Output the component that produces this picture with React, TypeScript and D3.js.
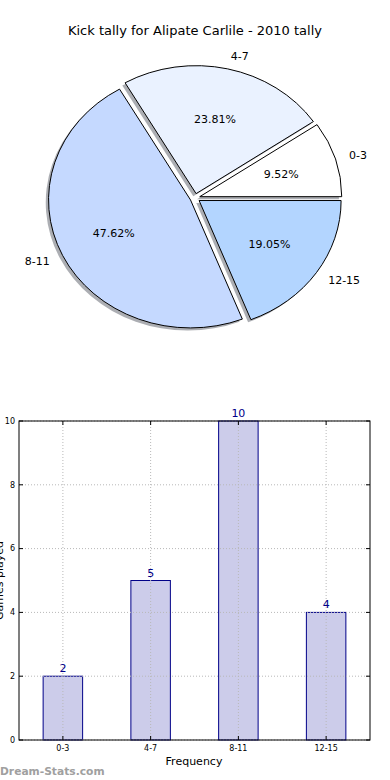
import React from 'react';
import * as d3 from 'd3';

const categories = ['0-3', '4-7', '8-11', '12-15'];
const tally = [2, 5, 10, 4];
const sliceColors = ['#ffffff', '#eaf2ff', '#c5d9ff', '#b3d5ff'];
const yTicks = [0, 2, 4, 6, 8, 10];

const title = 'Kick tally for Alipate Carlile - 2010 tally';
const font = 'DejaVu Sans, sans-serif';

function PieChart() {
  const cx = 195;
  const cy = 198;
  const rx = 142;
  const ry = 128;
  const explode = 0.035;

  const total = d3.sum(tally);
  // matplotlib style: start at 3 o'clock, go counterclockwise
  const pie = d3.pie<number>().sort(null).startAngle(Math.PI / 2).endAngle(Math.PI / 2 - 2 * Math.PI);
  const slices = pie(tally);
  const arc = d3.arc<d3.PieArcDatum<number>>().innerRadius(0).outerRadius(1);

  const pos = (a: number, k: number) => [Math.sin(a) * rx * k, -Math.cos(a) * ry * k];

  return (
    <g>
      <text x={195} y={35} textAnchor="middle" fontSize={13} fontFamily={font}>{title}</text>
      {slices.map((s, i) => {
        const mid = (s.startAngle + s.endAngle) / 2;
        const [ox, oy] = pos(mid, explode);
        return (
          <path key={'sh' + i} d={arc(s) || ''}
            transform={`translate(${cx + ox - 2.8},${cy + oy + 2.6}) scale(${rx},${ry})`}
            fill="#5a5e68" fillOpacity={0.5} />
        );
      })}
      {slices.map((s, i) => {
        const mid = (s.startAngle + s.endAngle) / 2;
        const [ox, oy] = pos(mid, explode);
        return (
          <path key={'sl' + i} d={arc(s) || ''}
            transform={`translate(${cx + ox},${cy + oy}) scale(${rx},${ry})`}
            fill={sliceColors[i]} stroke="#000" strokeWidth={1}
            vectorEffect="non-scaling-stroke" />
        );
      })}
      {slices.map((s, i) => {
        const mid = (s.startAngle + s.endAngle) / 2;
        const [ox, oy] = pos(mid, explode);
        const [lx, ly] = pos(mid, 1.1);
        const [px, py] = pos(mid, 0.6);
        return (
          <g key={'lb' + i} fontFamily={font} fontSize={11}>
            <text x={cx + ox + lx} y={cy + oy + ly} dy="0.35em"
              textAnchor={lx > 0 ? 'start' : 'end'}>{categories[i]}</text>
            <text x={cx + ox + px} y={cy + oy + py} dy="0.35em" textAnchor="middle">
              {((tally[i] / total) * 100).toFixed(2) + '%'}
            </text>
          </g>
        );
      })}
    </g>
  );
}

function BarChart() {
  const left = 19;
  const right = 370;
  const top = 421;
  const bottom = 740;
  const x = d3.scaleLinear().domain([-0.5, categories.length - 0.5]).range([left, right]);
  const y = d3.scaleLinear().domain([0, 10]).range([bottom, top]);
  const bw = x(0.45) - x(0);
  const grid = '#b8b8b8';

  return (
    <g fontFamily={font}>
      {tally.map((v, i) => (
        <rect key={'b' + i} x={x(i) - bw / 2} y={y(v)} width={bw} height={y(0) - y(v)}
          fill="#ccccea" stroke="#000088" strokeWidth={1} />
      ))}
      {yTicks.map(t => (
        <g key={'y' + t}>
          <line x1={left} x2={right} y1={y(t)} y2={y(t)} stroke={grid} strokeDasharray="1,2" />
          <line x1={left} x2={left + 4} y1={y(t)} y2={y(t)} stroke="#000" />
          <line x1={right - 4} x2={right} y1={y(t)} y2={y(t)} stroke="#000" />
          <text x={left - 4} y={y(t)} dy="0.35em" textAnchor="end" fontSize={8}>{t}</text>
        </g>
      ))}
      {categories.map((c, i) => (
        <g key={'x' + i}>
          <line x1={x(i)} x2={x(i)} y1={top} y2={bottom} stroke={grid} strokeDasharray="1,2" />
          <line x1={x(i)} x2={x(i)} y1={bottom - 4} y2={bottom} stroke="#000" />
          <line x1={x(i)} x2={x(i)} y1={top} y2={top + 4} stroke="#000" />
          <text x={x(i)} y={bottom + 11} textAnchor="middle" fontSize={8}>{c}</text>
          <text x={x(i)} y={y(tally[i]) - 4} textAnchor="middle" fontSize={11} fill="#000088">{tally[i]}</text>
        </g>
      ))}
      <rect x={left} y={top} width={right - left} height={bottom - top} fill="none" stroke="#000" />
      <text x={194} y={765} textAnchor="middle" fontSize={11}>Frequency</text>
      <text transform={`translate(3,${(top + bottom) / 2}) rotate(-90)`} textAnchor="middle" fontSize={11}>Games played</text>
      <text x={0} y={775} fontSize={10.7} fontWeight="bold" fill="#a0a0a0">Dream-Stats.com</text>
    </g>
  );
}

export default function App() {
  return (
    <svg width={390} height={780} style={{ position: 'absolute', left: 0, top: 0, background: '#fff' }}>
      <rect width={390} height={780} fill="#fff" />
      <PieChart />
      <BarChart />
    </svg>
  );
}
